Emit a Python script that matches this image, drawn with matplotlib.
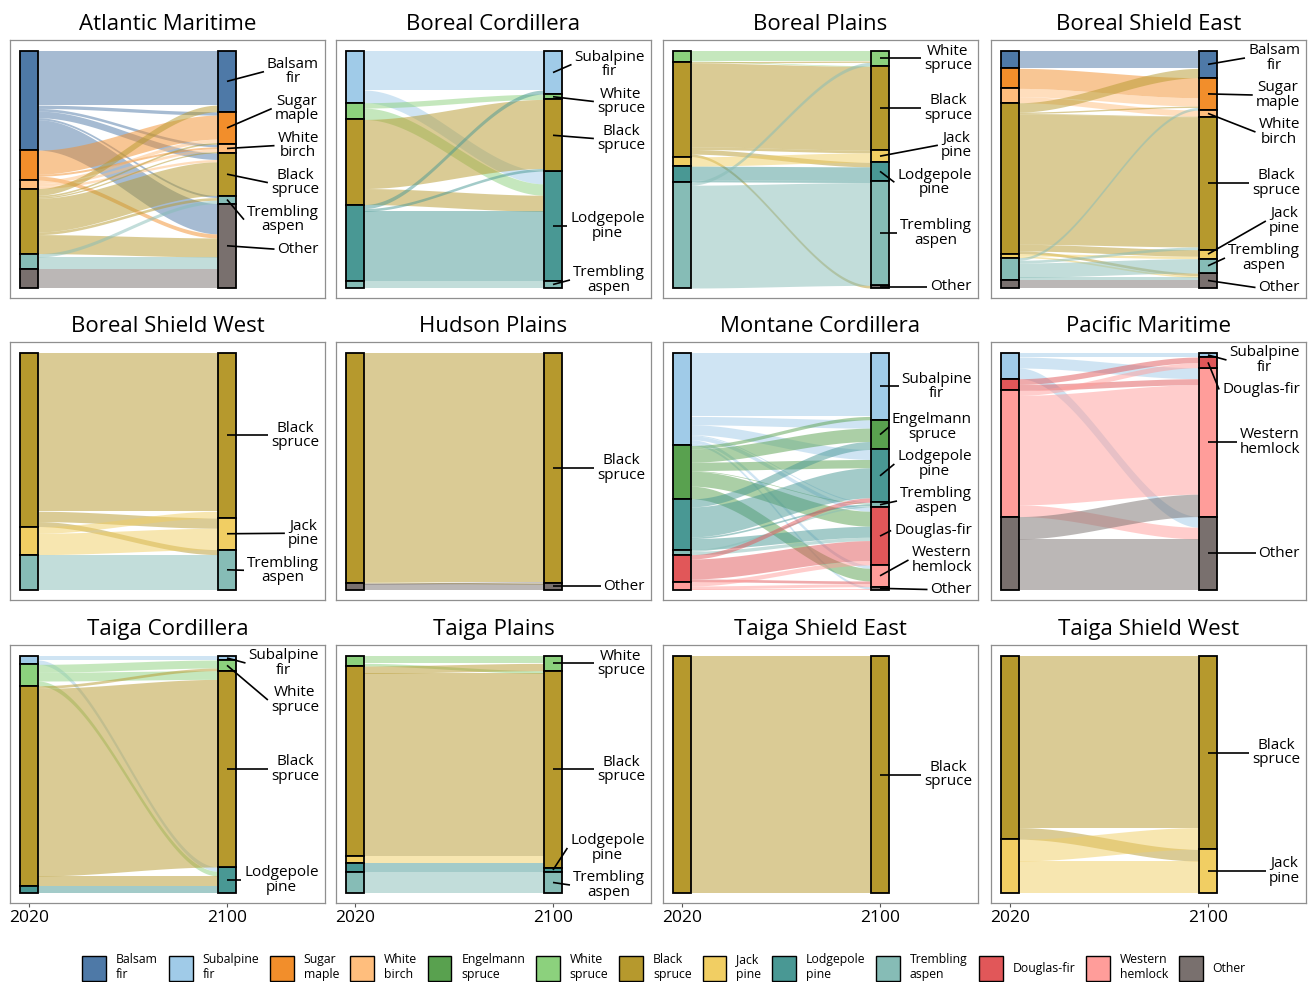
import matplotlib
matplotlib.use("Agg")
import matplotlib.pyplot as plt
from matplotlib.patches import Rectangle, Patch
import numpy as np

plt.rcParams["font.family"] = ["Open Sans", "DejaVu Sans"]

# Species codes, display names and colours (stacking order top to bottom)
SPECIES = ["BF", "SF", "SM", "WB", "ES", "WS", "BS", "JP", "LP", "TA", "DF", "WH", "OT"]
SPECIES_NAMES = ["Balsam fir", "Subalpine fir", "Sugar maple", "White birch",
                 "Engelmann spruce", "White spruce", "Black spruce", "Jack pine",
                 "Lodgepole pine", "Trembling aspen", "Douglas-fir", "Western hemlock",
                 "Other"]
SPECIES_COLORS = ["#4E79A7", "#A0CBE8", "#F28E2B", "#FFBE7D", "#59A14F", "#8CD17D",
                  "#B6992D", "#F1CE63", "#499894", "#86BCB6", "#E15759", "#FF9D9A",
                  "#79706E"]
YEARS = ["2020", "2100"]

REGION_TITLES = ["Atlantic Maritime", "Boreal Cordillera", "Boreal Plains",
                 "Boreal Shield East", "Boreal Shield West", "Hudson Plains",
                 "Montane Cordillera", "Pacific Maritime", "Taiga Cordillera",
                 "Taiga Plains", "Taiga Shield East", "Taiga Shield West"]

# Leading species transitions (2020 species, 2100 species, relative area)
ATLANTIC_MARITIME = [
    ("BF", "BF", 162), ("BF", "SM", 10), ("BF", "WB", 8), ("BF", "BS", 20), ("BF", "TA", 6), ("BF", "OT", 91),
    ("SM", "SM", 72), ("SM", "WB", 6), ("SM", "OT", 12),
    ("WB", "SM", 10), ("WB", "WB", 8), ("WB", "BS", 7),
    ("BS", "BF", 20), ("BS", "SM", 5), ("BS", "WB", 4), ("BS", "BS", 101), ("BS", "TA", 8), ("BS", "OT", 57),
    ("TA", "TA", 10), ("TA", "OT", 37),
    ("OT", "OT", 56),
]
BOREAL_CORDILLERA = [
    ("SF", "SF", 117), ("SF", "LP", 38),
    ("WS", "WS", 16), ("WS", "LP", 34),
    ("BS", "BS", 207), ("BS", "LP", 48),
    ("LP", "SF", 12), ("LP", "BS", 8), ("LP", "LP", 209),
    ("TA", "TA", 21),
]
BOREAL_PLAINS = [
    ("WS", "WS", 30), ("WS", "BS", 2),
    ("BS", "WS", 4), ("BS", "BS", 251), ("BS", "JP", 8), ("BS", "LP", 14), ("BS", "OT", 8),
    ("JP", "JP", 28),
    ("LP", "LP", 41), ("LP", "TA", 6),
    ("TA", "WS", 10), ("TA", "TA", 308),
]
BOREAL_SHIELD_EAST = [
    ("BF", "BF", 52),
    ("SM", "SM", 60),
    ("WB", "SM", 25), ("WB", "WB", 18),
    ("BS", "BF", 28), ("BS", "SM", 4), ("BS", "WB", 2), ("BS", "BS", 390), ("BS", "JP", 20), ("BS", "OT", 8),
    ("JP", "JP", 7), ("JP", "OT", 5),
    ("TA", "SM", 8), ("TA", "BS", 8), ("TA", "TA", 43), ("TA", "OT", 9),
    ("OT", "OT", 23),
]
BOREAL_SHIELD_WEST = [
    ("BS", "BS", 474), ("BS", "JP", 31), ("BS", "TA", 15),
    ("JP", "BS", 20), ("JP", "JP", 64),
    ("TA", "TA", 106),
]
HUDSON_PLAINS = [
    ("BS", "BS", 685), ("BS", "OT", 4),
    ("OT", "BS", 4), ("OT", "OT", 17),
]
MONTANE_CORDILLERA = [
    ("SF", "SF", 190), ("SF", "ES", 25), ("SF", "LP", 30), ("SF", "TA", 3), ("SF", "DF", 12), ("SF", "WH", 10), ("SF", "OT", 7),
    ("ES", "SF", 10), ("ES", "ES", 40), ("ES", "LP", 25), ("ES", "TA", 2), ("ES", "DF", 45), ("ES", "WH", 38),
    ("LP", "ES", 24), ("LP", "LP", 90), ("LP", "TA", 5), ("LP", "DF", 33),
    ("TA", "TA", 5), ("TA", "DF", 10),
    ("DF", "LP", 13), ("DF", "DF", 60), ("DF", "WH", 8),
    ("WH", "DF", 13), ("WH", "WH", 9), ("WH", "OT", 3),
]
PACIFIC_MARITIME = [
    ("SF", "SF", 12), ("SF", "WH", 33), ("SF", "OT", 32),
    ("DF", "DF", 17), ("DF", "WH", 18),
    ("WH", "DF", 15), ("WH", "WH", 328), ("WH", "OT", 35),
    ("OT", "WH", 67), ("OT", "OT", 153),
]
TAIGA_CORDILLERA = [
    ("SF", "SF", 12), ("SF", "LP", 13),
    ("WS", "WS", 24), ("WS", "BS", 26), ("WS", "LP", 14),
    ("BS", "WS", 8), ("BS", "BS", 562), ("BS", "LP", 30),
    ("LP", "LP", 21),
]
TAIGA_PLAINS = [
    ("WS", "WS", 22), ("WS", "BS", 8),
    ("BS", "WS", 22), ("BS", "BS", 548),
    ("JP", "BS", 19),
    ("LP", "BS", 16), ("LP", "LP", 12),
    ("TA", "TA", 63),
]
TAIGA_SHIELD_EAST = [
    ("BS", "BS", 710),
]
TAIGA_SHIELD_WEST = [
    ("BS", "BS", 514), ("BS", "JP", 35),
    ("JP", "BS", 65), ("JP", "JP", 96),
]

REGION_FLOWS = [ATLANTIC_MARITIME, BOREAL_CORDILLERA, BOREAL_PLAINS, BOREAL_SHIELD_EAST,
                BOREAL_SHIELD_WEST, HUDSON_PLAINS, MONTANE_CORDILLERA, PACIFIC_MARITIME,
                TAIGA_CORDILLERA, TAIGA_PLAINS, TAIGA_SHIELD_EAST, TAIGA_SHIELD_WEST]

# ---- layout (pixels) ----
FIG_W, FIG_H = 1309, 982
PANEL_LEFTS = [10, 336, 663, 991]
PANEL_TOPS = [40, 342, 645]
PANEL_W, PANEL_H = 315, 258
BAR_TOP, BAR_BOTTOM = 11, 248
BAR_W = 18
LEFT_CX, RIGHT_CX = 19, 217
LABEL_RIGHT = 309
LINE_PX = 15
LABEL_PAD = 7

COLOR_OF = dict(zip(SPECIES, SPECIES_COLORS))
NAME_OF = dict(zip(SPECIES, SPECIES_NAMES))
ORDER = {s: i for i, s in enumerate(SPECIES)}

fig = plt.figure(figsize=(FIG_W / 100, FIG_H / 100), dpi=100)
renderer = fig.canvas.get_renderer()


def pava(vals):
    blocks = []
    for v in vals:
        blocks.append([v, 1])
        while len(blocks) > 1 and blocks[-2][0] / blocks[-2][1] > blocks[-1][0] / blocks[-1][1]:
            s, c = blocks.pop()
            blocks[-1][0] += s
            blocks[-1][1] += c
    out = []
    for s, c in blocks:
        out += [s / c] * c
    return np.array(out)


def smooth(t):
    return t * t * (3 - 2 * t)


def draw_region(ax, title, flows, bottom_row):
    total = sum(v for _, _, v in flows)
    sy = (BAR_BOTTOM - BAR_TOP) / total      # px per unit of area
    sx = RIGHT_CX - LEFT_CX                   # px per axis slot
    bw = BAR_W / sx
    ax.set_xlim(-LEFT_CX / sx, (PANEL_W - LEFT_CX) / sx)
    ax.set_ylim(total + (PANEL_H - BAR_BOTTOM) / sy, -BAR_TOP / sy)

    left_tot, right_tot = {}, {}
    for o, d, v in flows:
        left_tot[o] = left_tot.get(o, 0) + v
        right_tot[d] = right_tot.get(d, 0) + v

    def stack(tots):
        start, y = {}, 0.0
        for s in SPECIES:
            if s in tots:
                start[s] = y
                y += tots[s]
        return start

    lstart, rstart = stack(left_tot), stack(right_tot)

    # flow positions inside each stratum
    lpos, rpos = {}, {}
    lcur = dict(lstart)
    for o, d, v in sorted(flows, key=lambda f: (ORDER[f[0]], ORDER[f[1]])):
        lpos[(o, d)] = lcur[o]
        lcur[o] += v
    rcur = dict(rstart)
    for o, d, v in sorted(flows, key=lambda f: (ORDER[f[1]], ORDER[f[0]])):
        rpos[(o, d)] = rcur[d]
        rcur[d] += v

    t = np.linspace(0, 1, 120)
    xs = bw / 2 + (1 - bw) * t
    for o, d, v in flows:
        y0, y1 = lpos[(o, d)], rpos[(o, d)]
        top = y0 + (y1 - y0) * smooth(t)
        ax.fill_between(xs, top, top + v, color=COLOR_OF[o], alpha=0.5, lw=0, zorder=1)

    for xc, tots, starts in ((0, left_tot, lstart), (1, right_tot, rstart)):
        for s, v in tots.items():
            ax.add_patch(Rectangle((xc - bw / 2, starts[s]), bw, v, facecolor=COLOR_OF[s],
                                   edgecolor="black", lw=1.3, zorder=3))

    # labels for 2100 strata, spread vertically without overlap
    keys = [s for s in SPECIES if s in right_tot]
    names = [NAME_OF[s].replace(" ", "\n", 1) for s in keys]
    heights = np.array([LINE_PX * (n.count("\n") + 1) for n in names], float)
    want = np.array([BAR_TOP + (rstart[s] + right_tot[s] / 2) * sy for s in keys])
    off = np.zeros(len(keys))
    for i in range(1, len(keys)):
        off[i] = off[i - 1] + (heights[i - 1] + heights[i]) / 2 + LABEL_PAD
    z = pava(want - off)
    lo = 3 + heights[0] / 2 - off[0]
    hi = PANEL_H - 3 - heights[-1] / 2 - off[-1]
    z = np.clip(z, lo, hi)
    placed = z + off

    xlab = (LABEL_RIGHT - LEFT_CX) / sx
    for s, name, ypx in zip(keys, names, placed):
        yv = (ypx - BAR_TOP) / sy
        txt = ax.text(xlab, yv, name, ha="right", va="center", multialignment="center",
                      fontsize=11, linespacing=0.95, zorder=5)
        bb = txt.get_window_extent(renderer)
        xend = ax.transData.inverted().transform((bb.x0 - 3, 0))[0]
        anchor = rstart[s] + right_tot[s] / 2
        ax.plot([1, xend], [anchor, yv], color="black", lw=1.2, zorder=4,
                solid_capstyle="butt")

    ax.text(0.5, 1 + 16 / PANEL_H, title, transform=ax.transAxes, ha="center",
            va="center", fontsize=16)
    for sp in ax.spines.values():
        sp.set_color("#8f8f8f")
        sp.set_linewidth(0.9)
    ax.set_yticks([])
    if bottom_row:
        ax.set_xticks([0, 1], YEARS)
        ax.tick_params(axis="x", length=3, pad=2, labelsize=12.5, color="#555555")
    else:
        ax.set_xticks([])


for k, (title, flows) in enumerate(zip(REGION_TITLES, REGION_FLOWS)):
    r, c = divmod(k, 4)
    left, top = PANEL_LEFTS[c], PANEL_TOPS[r]
    ax = fig.add_axes([left / FIG_W, 1 - (top + PANEL_H) / FIG_H, PANEL_W / FIG_W, PANEL_H / FIG_H])
    draw_region(ax, title, flows, r == 2)

handles = [Patch(facecolor=c, edgecolor="black", lw=1.0) for c in SPECIES_COLORS]
labels = [n.replace(" ", "\n", 1) if n != "Douglas-fir" else n for n in SPECIES_NAMES]
fig.legend(handles, labels, loc="center", bbox_to_anchor=(664 / FIG_W, 1 - 967 / FIG_H),
           ncol=13, frameon=False, fontsize=8.8, handlelength=1.95, handleheight=2.78,
           handletextpad=0.8, columnspacing=0.9, borderpad=0.2)

fig.savefig("out.png", dpi=100)
